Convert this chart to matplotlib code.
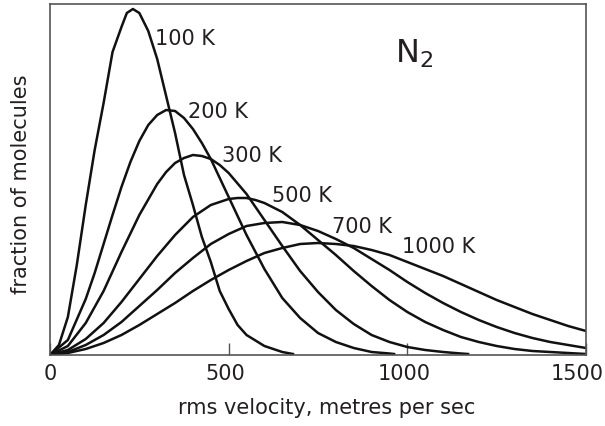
import matplotlib
matplotlib.use("Agg")
import matplotlib.pyplot as plt
from matplotlib.transforms import ScaledTranslation

plt.rcParams['font.family'] = ['DejaVu Sans']
plt.rcParams['mathtext.fontset'] = 'dejavusans'

# Velocities (m/s) and fractions (arbitrary units)
v_100 = [0, 25, 50, 75, 100, 125, 150, 175, 200, 215, 232, 250, 275, 300, 325, 350,
         375, 400, 425, 450, 475, 500, 525, 550, 600, 650, 680]
f_100 = [0, 10, 38, 90, 150, 205, 252, 303, 328, 342, 346, 342, 324, 296, 259, 222,
         180, 150, 118, 93, 64, 46, 30, 20, 9, 3, 1]

v_200 = [0, 50, 100, 125, 150, 175, 200, 225, 250, 275, 300, 325, 350, 375, 400,
         425, 450, 500, 550, 600, 650, 700, 750, 800, 850, 900, 950, 963]
f_200 = [0, 15, 56, 82, 111, 140, 168, 193, 214, 230, 240, 245, 244, 237, 226,
         212, 196, 158, 120, 86, 57, 37, 22, 13, 7, 3, 1.5, 1]

v_300 = [0, 50, 100, 150, 200, 250, 300, 325, 350, 375, 400, 425, 450, 475, 500,
         550, 600, 650, 700, 750, 800, 850, 900, 950, 1000, 1050, 1100, 1150, 1170]
f_300 = [0, 9, 32, 64, 103, 140, 171, 183, 192, 197, 200, 199, 196, 190, 182,
         161, 135, 109, 84, 63, 45, 31, 20, 13, 8, 5, 3, 1.5, 1]

v_500 = [0, 50, 100, 150, 200, 250, 300, 350, 400, 450, 500, 525, 550, 575, 600,
         650, 700, 750, 800, 850, 900, 950, 1000, 1050, 1100, 1150, 1200, 1250,
         1300, 1350, 1400, 1450, 1500]
f_500 = [0, 5, 16, 32, 53, 76, 99, 120, 138, 150, 156, 157, 157, 155, 152,
         143, 130, 115, 100, 84, 69, 55, 43, 33, 25, 18, 13, 9,
         6, 4, 3, 2, 1]

v_700 = [0, 50, 100, 150, 200, 250, 300, 350, 400, 450, 500, 550, 600, 650, 700,
         750, 800, 850, 900, 950, 1000, 1050, 1100, 1150, 1200, 1250, 1300, 1350,
         1400, 1450, 1500]
f_700 = [0, 3, 10, 20, 33, 49, 65, 82, 97, 111, 121, 129, 132, 133, 130,
         124, 116, 107, 96, 85, 73, 62, 52, 43, 35, 28, 22, 17,
         13, 10, 7]

v_1000 = [0, 50, 100, 150, 200, 250, 300, 350, 400, 450, 500, 550, 600, 650, 700,
          750, 800, 850, 900, 950, 1000, 1050, 1100, 1150, 1200, 1250, 1300, 1350,
          1400, 1450, 1500]
f_1000 = [0, 2, 6, 12, 20, 30, 41, 52, 64, 75, 85, 94, 102, 107, 111,
          112, 111, 109, 105, 100, 93, 86, 79, 71, 63, 55, 48, 41,
          35, 29, 24]

curve_labels = ["100 K", "200 K", "300 K", "500 K", "700 K", "1000 K"]
label_x = [294, 386, 481, 621, 789, 985]
label_y = [310, 237, 193, 153, 122, 102]

x_ticks = [0, 500, 1000, 1500]
x_tick_labels = ["0", "500", "1000", "1500"]

W, H = 605, 426
fig = plt.figure(figsize=(W / 100, H / 100), dpi=100)
ax = fig.add_axes([50 / W, (H - 355) / H, 536 / W, 351 / H])

text_color = '#231f20'
for v, f in [(v_100, f_100), (v_200, f_200), (v_300, f_300),
             (v_500, f_500), (v_700, f_700), (v_1000, f_1000)]:
    ax.plot(v, f, color='#111111', lw=1.8, solid_joinstyle='round')

for lab, lx, ly in zip(curve_labels, label_x, label_y):
    ax.text(lx, ly, lab, fontsize=15, color=text_color, ha='left', va='baseline')

ax.text(966, 292, r'$\mathregular{N_2}$', fontsize=23, color=text_color,
        ha='left', va='baseline')

ax.set_xlim(0, 1500)
ax.set_ylim(0, 351)
ax.set_xticks(x_ticks)
ax.set_xticklabels(x_tick_labels)
ax.set_yticks([])
ax.tick_params(axis='x', direction='in', length=8.5, width=1, color='#555555',
               labelsize=15, labelcolor=text_color, pad=6.5)
shifts = [0, -3, -3, -9]
for lbl, dx in zip(ax.get_xticklabels(), shifts):
    lbl.set_transform(lbl.get_transform() + ScaledTranslation(dx / 100, 0, fig.dpi_scale_trans))
for s in ax.spines.values():
    s.set_color('#555555')
    s.set_linewidth(1.2)

ax.set_xlabel('rms velocity, metres per sec', fontsize=15, color=text_color)
ax.set_ylabel('fraction of molecules', fontsize=15, color=text_color)
ax.xaxis.set_label_coords(0.517, -0.122)
ax.yaxis.set_label_coords(-0.036, 0.487)

fig.savefig('out.png', dpi=100)
